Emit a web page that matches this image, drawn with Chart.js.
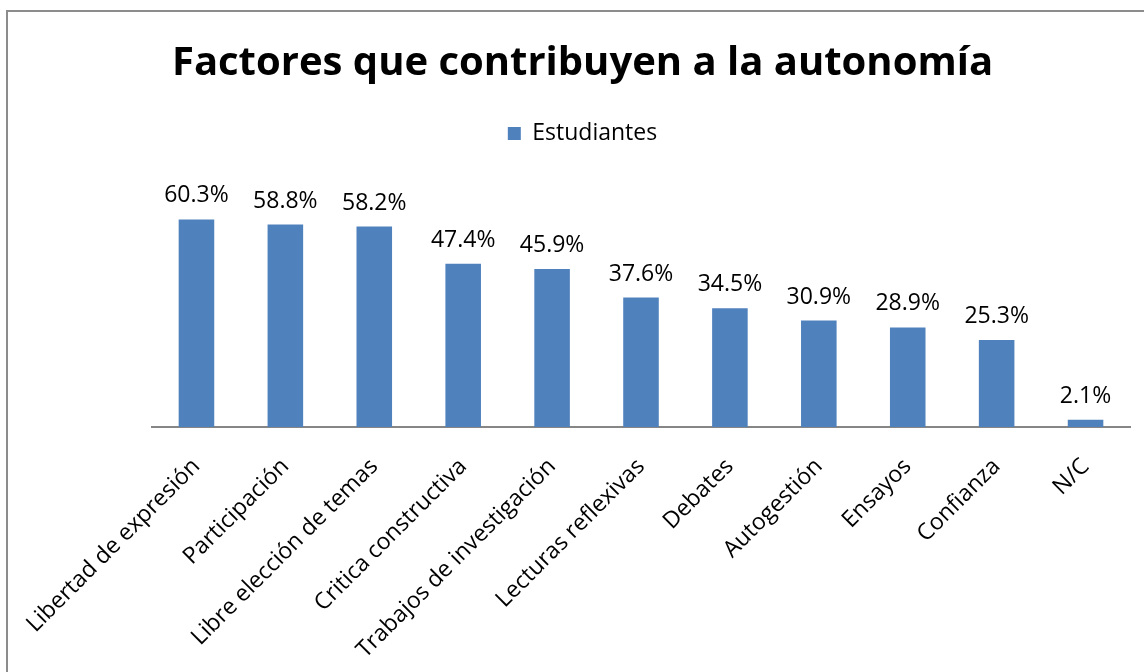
<!DOCTYPE html>
<html>
<head>
<meta charset="utf-8">
<script src="https://cdn.jsdelivr.net/npm/chart.js@4"></script>
<style>
  body { margin: 0; background: #fff; }
  #wrap { position: relative; width: 1144px; height: 672px; overflow: hidden; }
  #frame { position: absolute; left: 6px; top: 10px; width: 1160px; height: 700px; border: 2px solid #8c8c8c; pointer-events: none; }
  canvas { position: absolute; left: 0; top: 0; }
</style>
</head>
<body>
<div id="wrap">
  <canvas id="myChart" width="1144" height="672"></canvas>
  <div id="frame"></div>
</div>
<script>
const categories = ["Libertad de expresión", "Participación", "Libre elección de temas", "Critica constructiva",
    "Trabajos de investigación", "Lecturas reflexivas", "Debates", "Autogestión", "Ensayos", "Confianza", "N/C"];
const estudiantes = [60.3, 58.8, 58.2, 47.4, 45.9, 37.6, 34.5, 30.9, 28.9, 25.3, 2.1];

const FONT = "'Open Sans', sans-serif";

// draws the % value above each bar
const valueLabels = {
    id: "valueLabels",
    afterDatasetsDraw(chart) {
        const ctx = chart.ctx;
        const meta = chart.getDatasetMeta(0);
        ctx.save();
        ctx.font = "23px " + FONT;
        ctx.fillStyle = "#000";
        ctx.textAlign = "center";
        ctx.textBaseline = "alphabetic";
        meta.data.forEach((bar, i) => {
            ctx.fillText(estudiantes[i].toFixed(1) + "%", bar.x, bar.y - 17);
        });
        ctx.restore();
    }
};

const ctx = document.getElementById("myChart");
const myChart = new Chart(ctx, {
    type: "bar",
    data: {
        labels: categories,
        datasets: [{
            label: "Estudiantes",
            data: estudiantes,
            backgroundColor: "#4F81BD",
            borderWidth: 0,
            categoryPercentage: 1,
            barPercentage: 0.4,
        }],
    },
    options: {
        responsive: false,
        animation: false,
        layout: { padding: { left: 21, right: 0, top: 0, bottom: 0 } },
        plugins: {
            title: {
                display: true,
                text: "Factores que contribuyen a la autonomía",
                color: "#000",
                font: { family: FONT, size: 40, weight: "bold" },
                padding: { top: 40, bottom: 24 },
            },
            legend: {
                display: true,
                labels: {
                    color: "#000",
                    font: { family: FONT, size: 23 },
                    boxWidth: 13,
                    boxHeight: 13,
                    padding: 10,
                },
            },
            tooltip: { enabled: false },
        },
        scales: {
            x: {
                grid: { display: false },
                border: { display: true, color: "#868686", width: 2 },
                ticks: {
                    color: "#000",
                    font: { family: FONT, size: 23 },
                    maxRotation: 45,
                    minRotation: 45,
                    padding: 18,
                },
                afterFit(scale) {
                    scale.height = 245;
                    scale.paddingLeft = 0;
                    scale.paddingRight = 0;
                },
            },
            y: {
                display: true,
                min: 0,
                max: 79,
                grid: { display: false },
                border: { display: false },
                ticks: { display: false },
                afterFit(scale) { scale.width = 131; },
            },
            y2: {
                position: "right",
                display: true,
                grid: { display: false },
                border: { display: false },
                ticks: { display: false },
                afterFit(scale) { scale.width = 14; },
            },
        },
    },
    plugins: [valueLabels],
});
</script>
</body>
</html>
